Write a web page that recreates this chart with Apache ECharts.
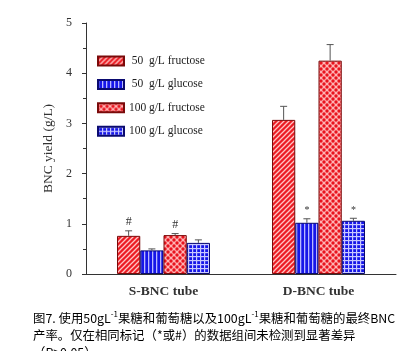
<!DOCTYPE html>
<html>
<head>
<meta charset="utf-8">
<script src="https://cdn.jsdelivr.net/npm/echarts@6/dist/echarts.min.js"></script>
<style>
  html, body { margin: 0; padding: 0; background: #fff; }
  #main { width: 403px; height: 351px; }
</style>
</head>
<body>
<div id="main"></div>
<script>
// data
var categories = ['S-BNC tube', 'D-BNC tube'];
var seriesNames = ['50 g/L fructose', '50 g/L glucose', '100 g/L fructose', '100 g/L glucose'];
var fructose50 = [0.76, 3.07];
var glucose50 = [0.47, 1.02];
var fructose100 = [0.775, 4.25];
var glucose100 = [0.62, 1.06];
var fructose50Err = [0.10, 0.27];
var glucose50Err = [0.03, 0.08];
var fructose100Err = [0.03, 0.32];
var glucose100Err = [0.06, 0.05];
var fructose50Mark = ['#', ''];
var glucose50Mark = ['', '*'];
var fructose100Mark = ['#', ''];
var glucose100Mark = ['', '*'];
var yTicks = [0, 1, 2, 3, 4, 5];

var values = [fructose50, glucose50, fructose100, glucose100];
var errs = [fructose50Err, glucose50Err, fructose100Err, glucose100Err];
var marks = [fructose50Mark, glucose50Mark, fructose100Mark, glucose100Mark];

// fill patterns
function pattern(kind) {
  var c = document.createElement('canvas');
  var ctx = c.getContext('2d');
  if (kind === 'diag') {
    c.width = 5; c.height = 5;
    ctx.fillStyle = '#ec1c24'; ctx.fillRect(0, 0, 5, 5);
    ctx.strokeStyle = '#ffc4c4'; ctx.lineWidth = 1.3;
    ctx.beginPath();
    ctx.moveTo(-1, 6); ctx.lineTo(6, -1);
    ctx.moveTo(-1, 1); ctx.lineTo(1, -1);
    ctx.moveTo(4, 6); ctx.lineTo(6, 4);
    ctx.stroke();
  } else if (kind === 'vert') {
    c.width = 4; c.height = 4;
    ctx.fillStyle = '#1616e8'; ctx.fillRect(0, 0, 4, 4);
    ctx.fillStyle = '#b8b8ff'; ctx.fillRect(0, 0, 1.3, 4);
  } else if (kind === 'dots') {
    c.width = 6; c.height = 6;
    ctx.fillStyle = '#ffb4b4'; ctx.fillRect(0, 0, 6, 6);
    ctx.fillStyle = '#e8141e';
    [[0, 0], [6, 0], [0, 6], [6, 6], [3, 3]].forEach(function (p) {
      ctx.beginPath(); ctx.arc(p[0], p[1], 1.7, 0, Math.PI * 2); ctx.fill();
    });
  } else {
    c.width = 4; c.height = 4;
    ctx.fillStyle = '#1616e8'; ctx.fillRect(0, 0, 4, 4);
    ctx.fillStyle = '#c8c8ff';
    ctx.fillRect(0, 0, 1.2, 4); ctx.fillRect(0, 0, 4, 1.2);
  }
  return { image: c, repeat: 'repeat' };
}
var fills = [pattern('diag'), pattern('vert'), pattern('dots'), pattern('grid')];
var borders = ['#7a0a0a', '#0a0a70', '#7a0a0a', '#0a0a70'];

var BAR_FRAC = 0.15;
var serif = 'Liberation Serif';

var series = seriesNames.map(function (name, i) {
  return {
    name: name,
    type: 'bar',
    data: values[i],
    barWidth: (BAR_FRAC * 100) + '%',
    barGap: '0%',
    itemStyle: { color: fills[i], borderColor: borders[i], borderWidth: 1 }
  };
});

// error bars + significance marks
var errData = [];
values.forEach(function (vals, i) {
  vals.forEach(function (v, j) {
    errData.push([j, v, errs[i][j], i, marks[i][j]]);
  });
});
series.push({
  type: 'custom',
  data: errData,
  z: 5,
  silent: true,
  renderItem: function (params, api) {
    var cat = api.value(0), v = api.value(1), e = api.value(2), k = api.value(3);
    var band = api.size([1, 0])[0];
    var w = band * BAR_FRAC;
    var x = api.coord([cat, v])[0] + (k - 1.5) * w;
    var y0 = api.coord([cat, v])[1];
    var y1 = api.coord([cat, v + e])[1];
    var mark = errData[params.dataIndex][4];
    var children = [
      { type: 'line', shape: { x1: x, y1: y0, x2: x, y2: y1 }, style: { stroke: '#555', lineWidth: 1 } },
      { type: 'line', shape: { x1: x - 3.5, y1: y1, x2: x + 3.5, y2: y1 }, style: { stroke: '#555', lineWidth: 1 } }
    ];
    if (mark) {
      children.push({
        type: 'text',
        style: { text: mark, x: x, y: y1 - 3, align: 'center', verticalAlign: 'bottom',
                 font: (mark === '#' ? '12px' : '10px') + ' "Liberation Serif"', fill: '#333' }
      });
    }
    return { type: 'group', children: children };
  }
});

var chart = echarts.init(document.getElementById('main'));
chart.setOption({
  animation: false,
  backgroundColor: '#fff',
  grid: { left: 86, right: 7, top: 23, bottom: 77, containLabel: false },
  legend: {
    orient: 'vertical',
    left: 97,
    top: 55,
    padding: 0,
    icon: 'rect',
    itemWidth: 26,
    itemHeight: 9,
    itemGap: 11.4,
    data: seriesNames,
    formatter: function (name) {
      var sp = name.indexOf(' ');
      return '{n|' + name.slice(0, sp) + '}{t| ' + name.slice(sp + 1) + '}';
    },
    textStyle: {
      rich: {
        n: { fontFamily: serif, fontSize: 11.5, color: '#222', width: 17, align: 'right', lineHeight: 12 },
        t: { fontFamily: serif, fontSize: 11.5, color: '#222', lineHeight: 12 }
      }
    }
  },
  xAxis: {
    type: 'category',
    data: categories,
    axisLine: { lineStyle: { color: '#333' } },
    axisTick: { alignWithLabel: true, length: 4, lineStyle: { color: '#333' } },
    axisLabel: { fontFamily: serif, fontSize: 13.5, fontWeight: 'bold', color: '#333', margin: 11 }
  },
  yAxis: {
    type: 'value',
    min: yTicks[0],
    max: yTicks[yTicks.length - 1],
    interval: 1,
    name: 'BNC yield (g/L)',
    nameLocation: 'middle',
    nameGap: 31,
    nameRotate: 90,
    nameTextStyle: { fontFamily: serif, fontSize: 13.5, color: '#333' },
    axisLine: { show: true, lineStyle: { color: '#333' } },
    axisTick: { show: true, length: 4, lineStyle: { color: '#333' } },
    minorTick: { show: true, splitNumber: 2, length: 3, lineStyle: { color: '#333' } },
    splitLine: { show: false },
    axisLabel: { fontFamily: serif, fontSize: 12, color: '#333', margin: 14 }
  },
  graphic: [{
    type: 'text',
    left: 33,
    top: 310,
    style: {
      text: '{a|图7. 使用50gL}{s|-1}{a|果糖和葡萄糖以及100gL}{s|-1}{a|果糖和葡萄糖的最终BNC}\n{a|产率。仅在相同标记（*或#）的数据组间未检测到显著差异}\n{a|（P>0.05）。}',
      rich: {
        a: { fontFamily: 'Noto Sans CJK SC', fontSize: 12.4, color: '#222', lineHeight: 17 },
        s: { fontFamily: 'Noto Sans CJK SC', fontSize: 8, color: '#222', lineHeight: 17, verticalAlign: 'top' }
      }
    }
  }],
  series: series
});
</script>
</body>
</html>
